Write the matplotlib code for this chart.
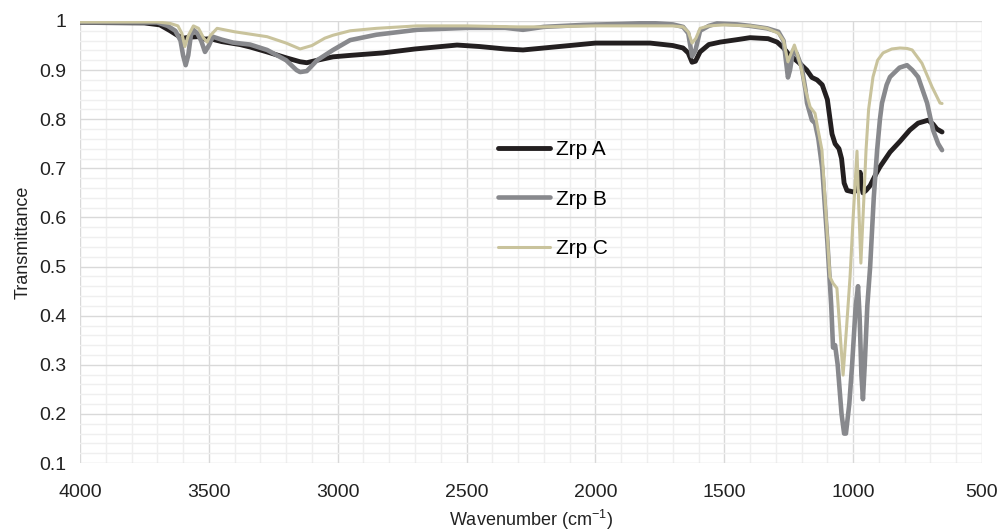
import matplotlib
matplotlib.use("Agg")
import matplotlib.pyplot as plt
from matplotlib.ticker import MultipleLocator

plt.rcParams['font.family'] = ['Liberation Sans', 'DejaVu Sans']
plt.rcParams['mathtext.fontset'] = 'custom'
plt.rcParams['mathtext.rm'] = 'Liberation Sans'
plt.rcParams['mathtext.it'] = 'Liberation Sans'

# ---- data ----
wn_a = [4000, 3750, 3690, 3650, 3620, 3595, 3580, 3540, 3515, 3495, 3450, 3379,
        3340, 3274, 3200, 3146, 3120, 3080, 3018, 2950, 2824, 2700, 2537, 2450,
        2350, 2281, 2200, 2100, 2000, 1900, 1788, 1700, 1660, 1640, 1625, 1612,
        1594, 1560, 1516, 1450, 1400, 1330, 1295, 1270, 1250, 1233, 1210, 1180,
        1160, 1140, 1120, 1100, 1082, 1070, 1055, 1045, 1035, 1024, 1000, 985,
        973, 968, 962, 950, 934, 910, 896, 857, 818, 780, 748, 709, 690, 675, 655]
zrp_a = [0.997, 0.996, 0.992, 0.98, 0.97, 0.965, 0.967, 0.968, 0.963, 0.964, 0.958, 0.952,
         0.947, 0.937, 0.925, 0.917, 0.915, 0.92, 0.927, 0.93, 0.935, 0.943, 0.951, 0.948,
         0.943, 0.941, 0.945, 0.95, 0.955, 0.955, 0.955, 0.95, 0.945, 0.935, 0.916, 0.918,
         0.937, 0.952, 0.957, 0.962, 0.966, 0.964, 0.957, 0.945, 0.932, 0.925, 0.915, 0.9,
         0.885, 0.88, 0.87, 0.84, 0.77, 0.75, 0.74, 0.72, 0.67, 0.655, 0.652, 0.655,
         0.692, 0.67, 0.65, 0.655, 0.665, 0.69, 0.703, 0.733, 0.755, 0.778, 0.792, 0.798, 0.79, 0.78, 0.774]

wn_b = [4000, 3700, 3660, 3630, 3610, 3600, 3590, 3580, 3570, 3560, 3545, 3530,
        3515, 3500, 3485, 3450, 3406, 3340, 3274, 3200, 3160, 3146, 3120, 3080,
        3018, 2952, 2850, 2692, 2498, 2350, 2281, 2200, 2048, 1900, 1788, 1700,
        1660, 1640, 1625, 1612, 1594, 1560, 1528, 1450, 1400, 1334, 1290, 1270,
        1253, 1245, 1233, 1220, 1200, 1185, 1179, 1160, 1148, 1135, 1120, 1100,
        1085, 1078, 1070, 1060, 1045, 1035, 1028, 1015, 1004, 990, 981, 975,
        968, 962, 955, 945, 934, 920, 907, 896, 888, 870, 857, 820, 791, 770,
        748, 713, 690, 670, 655]
zrp_b = [0.997, 0.997, 0.99, 0.98, 0.96, 0.93, 0.91, 0.93, 0.97, 0.982, 0.975, 0.96,
         0.937, 0.95, 0.968, 0.962, 0.956, 0.952, 0.941, 0.92, 0.9, 0.896, 0.898, 0.92,
         0.941, 0.961, 0.972, 0.982, 0.986, 0.986, 0.982, 0.988, 0.992, 0.994, 0.996, 0.993,
         0.988, 0.975, 0.928, 0.94, 0.98, 0.99, 0.995, 0.993, 0.99, 0.985, 0.978, 0.96,
         0.885, 0.9, 0.94, 0.935, 0.907, 0.86, 0.833, 0.798, 0.792, 0.76, 0.7, 0.55,
         0.42, 0.335, 0.34, 0.3, 0.2, 0.16, 0.16, 0.22, 0.3, 0.42, 0.46, 0.4,
         0.28, 0.23, 0.3, 0.42, 0.5, 0.64, 0.737, 0.8, 0.833, 0.87, 0.886, 0.905, 0.91, 0.9,
         0.886, 0.833, 0.778, 0.75, 0.737]

wn_c = [4000, 3700, 3650, 3620, 3605, 3593, 3580, 3560, 3540, 3520, 3507, 3495,
        3468, 3400, 3274, 3200, 3146, 3100, 3050, 3018, 2952, 2850, 2692, 2500,
        2300, 2200, 2000, 1800, 1700, 1660, 1640, 1625, 1610, 1594, 1560, 1500,
        1400, 1334, 1290, 1270, 1253, 1240, 1228, 1215, 1200, 1185, 1167, 1148,
        1136, 1121, 1090, 1078, 1063, 1050, 1039, 1025, 1012, 1000, 985, 978,
        970, 960, 950, 940, 923, 905, 884, 850, 818, 790, 771, 733, 694, 663, 655]
zrp_c = [0.998, 0.998, 0.995, 0.99, 0.975, 0.948, 0.97, 0.99, 0.985, 0.965, 0.957, 0.97,
         0.985, 0.978, 0.968, 0.955, 0.943, 0.95, 0.965, 0.971, 0.98, 0.985, 0.99, 0.99,
         0.988, 0.988, 0.99, 0.99, 0.99, 0.988, 0.978, 0.955, 0.965, 0.985, 0.99, 0.992,
         0.99, 0.985, 0.975, 0.96, 0.917, 0.935, 0.951, 0.93, 0.9, 0.86, 0.825, 0.812,
         0.778, 0.737, 0.479, 0.466, 0.456, 0.36, 0.279, 0.38, 0.479, 0.6, 0.735, 0.62,
         0.507, 0.62, 0.737, 0.82, 0.886, 0.92, 0.935, 0.943, 0.945, 0.944, 0.941, 0.914, 0.866, 0.833, 0.832]

fig = plt.figure(figsize=(10, 5.31), dpi=100)
ax = fig.add_axes([0.08, 0.128, 0.902, 0.8325])

ax.plot(wn_a, zrp_a, color='#231f20', lw=3.5, label='Zrp A', solid_capstyle='round', solid_joinstyle='round')
ax.plot(wn_b, zrp_b, color='#88898d', lw=3.3, label='Zrp B', solid_capstyle='round', solid_joinstyle='round')
ax.plot(wn_c, zrp_c, color='#c9c39c', lw=2.2, label='Zrp C', solid_capstyle='round', solid_joinstyle='round')

ax.set_xlim(4000, 500)
ax.set_ylim(0.1, 1.0)
ax.xaxis.set_major_locator(MultipleLocator(500))
ax.xaxis.set_minor_locator(MultipleLocator(100))
ax.yaxis.set_major_locator(MultipleLocator(0.1))
ax.yaxis.set_minor_locator(MultipleLocator(0.02))
ax.set_yticks([0.1, 0.2, 0.3, 0.4, 0.5, 0.6, 0.7, 0.8, 0.9, 1.0])
ax.set_yticklabels(['0.1', '0.2', '0.3', '0.4', '0.5', '0.6', '0.7', '0.8', '0.9', '1'])

ax.grid(which='major', color='#d9d9d9', lw=1.0)
ax.grid(which='minor', color='#efefef', lw=1.0)
ax.set_axisbelow(True)
for s in ax.spines.values():
    s.set_visible(False)
ax.tick_params(which='both', length=0, labelsize=14, colors='#222222')
ax.tick_params(axis='y', pad=10)
ax.tick_params(axis='x', pad=15)

ax.set_xlabel('Wavenumber (cm$^{-1}$)', fontsize=13, color='#222222', labelpad=5)
ax.set_ylabel('Transmittance', fontsize=13, color='#222222', labelpad=5)

ax.legend(loc='center left', bbox_to_anchor=(0.443, 0.597), frameon=False,
          fontsize=15, handlelength=2.5, handletextpad=0.25, labelspacing=1.45)

fig.savefig('out.png', dpi=100)
